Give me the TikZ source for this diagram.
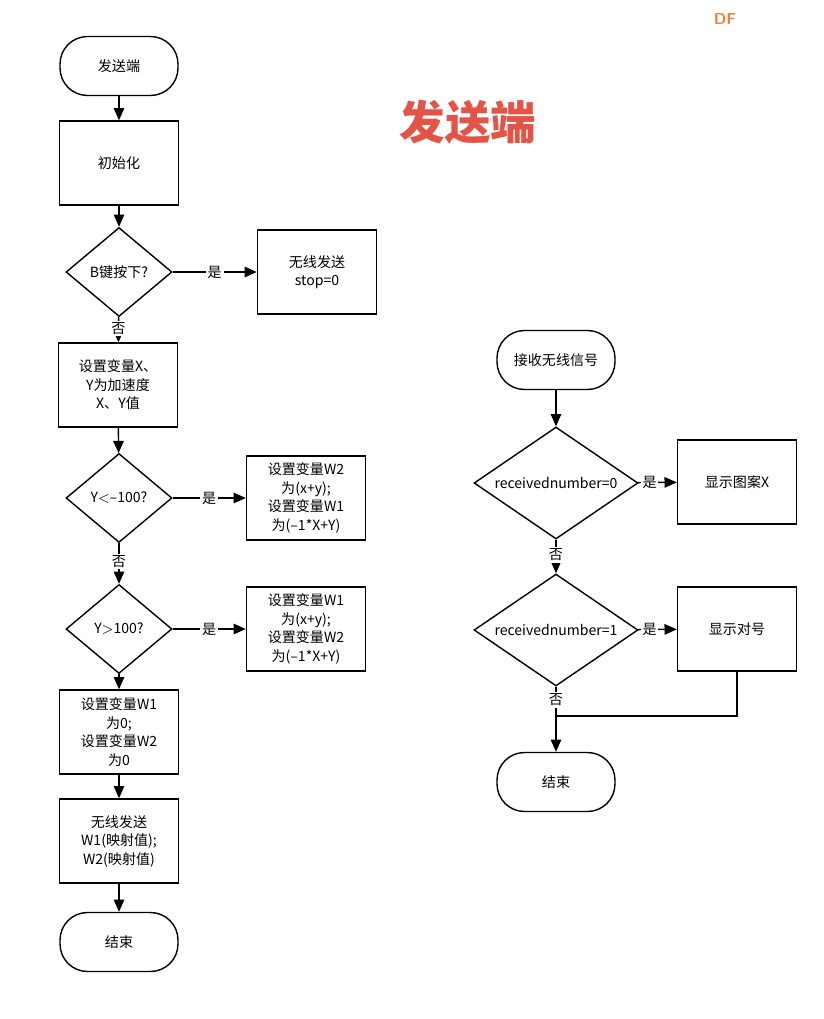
\documentclass[tikz,border=0pt]{standalone}
\usepackage{fontspec}
\setmainfont{Noto Sans CJK SC}
\usetikzlibrary{shapes.geometric,arrows.meta}
\definecolor{titlered}{RGB}{228,84,70}
\definecolor{logoorange}{RGB}{238,128,64}
\tikzset{
  blk/.style={draw,thick,minimum width=2.38cm,minimum height=1.68cm,align=center,font=\fontsize{8}{10.5}\selectfont},
  term/.style={draw,thick,rounded corners=0.55cm,minimum width=2.36cm,minimum height=1.18cm,font=\fontsize{8}{10}\selectfont},
  dec/.style={draw,thick,diamond,aspect=1.18,inner sep=0pt,minimum width=2.12cm,minimum height=1.78cm,font=\fontsize{8}{10}\selectfont},
  wdec/.style={draw,thick,diamond,aspect=1.47,inner sep=0pt,minimum width=3.28cm,minimum height=2.24cm,font=\fontsize{8}{10}\selectfont},
  lab/.style={fill=white,inner sep=1pt,font=\fontsize{8}{10}\selectfont},
  arr/.style={thick,-{Triangle[length=7pt,width=6pt]}}
}
\begin{document}
\begin{tikzpicture}[x=0.02cm,y=-0.02cm]
	\useasboundingbox (0,0) rectangle (823,1019);
	%TITLE
	\node[text=titlered,font=\fontsize{26}{28}\selectfont\bfseries,
	  preaction={text=black!25,transform canvas={shift={(1.5pt,-1.5pt)}}}] (title) at (468,122) {发送端};
	\node[text=logoorange,font=\sffamily\bfseries\fontsize{9}{10}\selectfont] (logo) at (725,19) {DF};

	%SENDER
	\node[term] (start) at (119,66) {发送端};
	\node[blk] (init) at (119,163) {初始化};
	\node[dec] (keyb) at (119,272) {B键按下?};
	\node[blk] (stop) at (317,272) {无线发送\\stop=0};
	\node[blk] (setxy) at (118,385) {设置变量X、\\Y为加速度\\X、Y值};
	\node[dec] (ylow) at (119,498) {Y$<$--100?};
	\node[blk] (wa) at (306,498) {设置变量W2\\为(x+y);\\设置变量W1\\为(--1*X+Y)};
	\node[dec] (yhigh) at (119,629) {Y$>$100?};
	\node[blk] (wb) at (306,629) {设置变量W1\\为(x+y);\\设置变量W2\\为(--1*X+Y)};
	\node[blk] (wzero) at (119,732) {设置变量W1\\为0;\\设置变量W2\\为0};
	\node[blk] (send) at (119,841) {无线发送\\W1(映射值);\\W2(映射值)};
	\node[term] (stopl) at (119,942) {结束};
	%
	\draw[arr] (start) -- (init);
	\draw[arr] (init) -- (keyb);
	\draw[arr] (keyb) -- node[lab]{是} (stop);
	\draw[arr] (keyb) -- node[lab,pos=0.45]{否} (setxy);
	\draw[arr] (setxy) -- (ylow);
	\draw[arr] (ylow) -- node[lab]{是} (wa);
	\draw[arr] (ylow) -- node[lab,pos=0.45]{否} (yhigh);
	\draw[arr] (yhigh) -- node[lab]{是} (wb);
	\draw[arr] (yhigh) -- (wzero);
	\draw[arr] (wzero) -- (send);
	\draw[arr] (send) -- (stopl);

	%RECEIVER
	\node[term] (recv) at (556,360) {接收无线信号};
	\node[wdec] (eqz) at (556,483) {receivednumber=0};
	\node[blk] (showx) at (737,482) {显示图案X};
	\node[wdec] (eqo) at (556,630) {receivednumber=1};
	\node[blk] (showok) at (737,629) {显示对号};
	\node[term] (stopr) at (556,782) {结束};
	\coordinate (join) at (556,716);
	%
	\draw[arr] (recv) -- (eqz);
	\draw[arr] (eqz) -- node[lab,pos=0.3]{是} (showx);
	\draw[arr] (eqz) -- node[lab,pos=0.45]{否} (eqo);
	\draw[arr] (eqo) -- node[lab,pos=0.3]{是} (showok);
	\draw[thick] (eqo) -- node[lab,pos=0.45]{否} (join);
	\draw[thick] (showok.south) |- (join);
	\draw[arr] (join) -- (stopr);
\end{tikzpicture}
\end{document}
